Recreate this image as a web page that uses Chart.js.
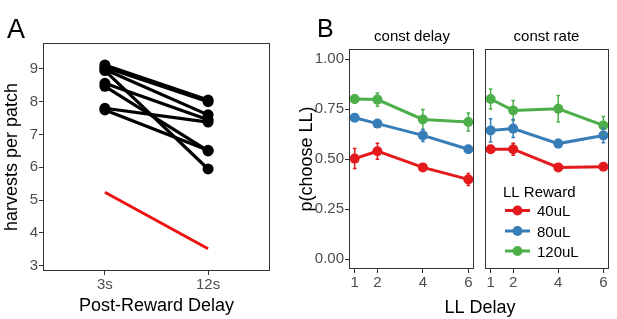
<!DOCTYPE html>
<html>
<head>
<meta charset="utf-8">
<script src="https://cdn.jsdelivr.net/npm/chart.js@4"></script>
<style>
  body { margin: 0; background: #fff; }
  #wrap { position: relative; width: 617px; height: 319px; overflow: hidden; background: #fff; }
  #wrap canvas { position: absolute; top: 0; }
</style>
</head>
<body>
<div id="wrap">
  <canvas id="chartA" width="300" height="319" style="left:0"></canvas>
  <canvas id="chartB1" width="230" height="319" style="left:290px"></canvas>
  <canvas id="chartB2" width="137" height="319" style="left:480px"></canvas>
</div>
<script>
// panel A: harvests per patch, one line per subject
const delayLabels = ['3s', '12s'];
const harvest3s  = [9.12, 9.05, 8.98, 8.95, 8.56, 8.47, 7.80, 7.75];
const harvest12s = [8.05, 8.00, 7.60, 5.95, 7.45, 6.50, 7.38, 6.52];
const optimalLine = [5.24, 3.52];

// panel B: p(choose LL) by LL delay
const llDelay = [1, 2, 4, 6];
const rewardLabels = ['40uL', '80uL', '120uL'];
const rewardColors = ['#e41a1c', '#377eb8', '#4daf4a'];
const constDelay40  = [0.502, 0.539, 0.458, 0.398];
const constDelay80  = [0.706, 0.677, 0.618, 0.549];
const constDelay120 = [0.800, 0.797, 0.698, 0.685];
const constDelayErr40  = [0.050, 0.040, 0.015, 0.030];
const constDelayErr80  = [0.015, 0.012, 0.030, 0.012];
const constDelayErr120 = [0.020, 0.033, 0.050, 0.045];
const constRate40  = [0.549, 0.549, 0.458, 0.461];
const constRate80  = [0.643, 0.652, 0.577, 0.618];
const constRate120 = [0.800, 0.743, 0.751, 0.668];
const constRateErr40  = [0.010, 0.030, 0.010, 0.010];
const constRateErr80  = [0.058, 0.045, 0.020, 0.037];
const constRateErr120 = [0.050, 0.050, 0.066, 0.045];
const probTicks = [0, 0.25, 0.5, 0.75, 1];

Chart.defaults.font.family = '"Liberation Sans", Arial, sans-serif';
Chart.defaults.animation = false;
Chart.defaults.responsive = false;
Chart.defaults.devicePixelRatio = 1;
Chart.defaults.plugins.legend.display = false;
Chart.defaults.plugins.tooltip.enabled = false;

const TICK_COLOR = '#4d4d4d';
const FRAME_COLOR = '#333333';
const FONT = '"Liberation Sans", Arial, sans-serif';

const framePlugin = {
    id: 'frame',
    afterDatasetsDraw(chart) {
        const a = chart.chartArea, ctx = chart.ctx;
        ctx.save();
        ctx.strokeStyle = FRAME_COLOR;
        ctx.lineWidth = 1;
        ctx.strokeRect(Math.round(a.left) + 0.5, Math.round(a.top) + 0.5,
            Math.round(a.right - a.left) - 1, Math.round(a.bottom - a.top) - 1);
        ctx.restore();
    }
};

function textPlugin(items) {
    return {
        id: 'texts',
        afterDraw(chart) {
            const ctx = chart.ctx;
            ctx.save();
            items.forEach(t => {
                ctx.font = t.font;
                ctx.fillStyle = t.color || '#000';
                ctx.textAlign = t.align || 'left';
                ctx.textBaseline = 'alphabetic';
                ctx.fillText(t.text, t.x, t.y);
            });
            ctx.restore();
        }
    };
}

function errSegments(xs, ys, es, cap) {
    const pts = [];
    xs.forEach((x, i) => {
        const lo = ys[i] - es[i], hi = ys[i] + es[i];
        pts.push({x: x, y: lo}, {x: x, y: hi}, {x: x, y: null});
        pts.push({x: x - cap, y: hi}, {x: x + cap, y: hi}, {x: x, y: null});
        pts.push({x: x - cap, y: lo}, {x: x + cap, y: lo}, {x: x, y: null});
    });
    return pts;
}

function tickOpts(size) {
    return { color: TICK_COLOR, font: { size: size }, padding: 1 };
}
const gridOpts = { drawOnChartArea: false, drawTicks: true, tickLength: 4, color: FRAME_COLOR };

// ---------- panel A ----------
const subjectSets = harvest3s.map((v, i) => ({
    data: [{x: 1, y: v}, {x: 2, y: harvest12s[i]}],
    borderColor: '#000', backgroundColor: '#000',
    borderWidth: 3.2, pointRadius: 5.5, pointBorderWidth: 0
}));
subjectSets.push({
    data: [{x: 1, y: optimalLine[0]}, {x: 2, y: optimalLine[1]}],
    borderColor: '#ee1111', borderWidth: 3, pointRadius: 0
});

new Chart(document.getElementById('chartA'), {
    type: 'line',
    data: { datasets: subjectSets },
    options: {
        layout: { padding: { top: 43, right: 30, left: 0, bottom: 0 } },
        scales: {
            x: {
                type: 'linear', min: 0.4, max: 2.6, bounds: 'data',
                afterBuildTicks: s => { s.ticks = [1, 2].map(v => ({value: v})); },
                afterFit: s => { s.height = 48; },
                ticks: Object.assign(tickOpts(15), { callback: v => delayLabels[v - 1] }),
                grid: gridOpts, border: { display: false },
                title: { display: true, text: 'Post-Reward Delay', color: '#000', font: { size: 18 }, padding: { top: 0, bottom: 2 } }
            },
            y: {
                type: 'linear', min: 2.84, max: 9.79, bounds: 'data',
                afterBuildTicks: s => { s.ticks = [3, 4, 5, 6, 7, 8, 9].map(v => ({value: v})); },
                afterFit: s => { s.width = 43; },
                ticks: tickOpts(15),
                grid: gridOpts, border: { display: false },
                title: { display: true, text: 'harvests per patch', color: '#000', font: { size: 18 }, padding: { top: 1, bottom: 0 } }
            }
        }
    },
    plugins: [framePlugin, textPlugin([{ text: 'A', x: 7, y: 38, font: '27px ' + FONT }])]
});

// ---------- panel B ----------
function facetSets(means, errs) {
    const sets = [];
    means.forEach((m, k) => {
        sets.push({
            data: errSegments(llDelay, m, errs[k], 0.08),
            borderColor: rewardColors[k], borderWidth: 1.5, pointRadius: 0, spanGaps: false
        });
    });
    means.forEach((m, k) => {
        sets.push({
            data: llDelay.map((x, i) => ({x: x, y: m[i]})),
            borderColor: rewardColors[k], backgroundColor: rewardColors[k],
            borderWidth: 3, pointRadius: 5, pointBorderWidth: 0
        });
    });
    return sets;
}

function facetScales(showY, yWidth) {
    return {
        x: {
            type: 'linear', min: 0.75, max: 6.25, bounds: 'data',
            afterBuildTicks: s => { s.ticks = llDelay.map(v => ({value: v})); },
            afterFit: s => { s.height = 50; },
            ticks: tickOpts(15),
            grid: gridOpts, border: { display: false }
        },
        y: {
            type: 'linear', min: -0.05, max: 1.05, bounds: 'data', display: showY,
            afterBuildTicks: s => { s.ticks = probTicks.map(v => ({value: v})); },
            afterFit: s => { s.width = yWidth; },
            ticks: Object.assign(tickOpts(15), { callback: v => v.toFixed(2) }),
            grid: gridOpts, border: { display: false },
            title: { display: true, text: 'p(choose LL)', color: '#000', font: { size: 18 }, padding: { top: 6, bottom: 0 } }
        }
    };
}

new Chart(document.getElementById('chartB1'), {
    type: 'line',
    data: { datasets: facetSets([constDelay40, constDelay80, constDelay120], [constDelayErr40, constDelayErr80, constDelayErr120]) },
    options: {
        layout: { padding: { top: 49, right: 46, left: 0, bottom: 0 } },
        scales: facetScales(true, 59)
    },
    plugins: [framePlugin, textPlugin([
        { text: 'B', x: 27, y: 37, font: '25px ' + FONT },
        { text: 'const delay', x: 122, y: 41, align: 'center', font: '15px ' + FONT },
        { text: 'LL Delay', x: 190, y: 313, align: 'center', font: '18px ' + FONT }
    ])]
});

const legendPlugin = {
    id: 'rewardLegend',
    afterDraw(chart) {
        const ctx = chart.ctx;
        ctx.save();
        ctx.font = '15px ' + FONT;
        ctx.fillStyle = '#000';
        ctx.textBaseline = 'alphabetic';
        ctx.fillText('LL Reward', 23, 197);
        const rows = [210.5, 231, 251];
        rewardLabels.forEach((lab, k) => {
            const y = rows[k];
            ctx.strokeStyle = rewardColors[k];
            ctx.lineWidth = 3;
            ctx.beginPath(); ctx.moveTo(25, y); ctx.lineTo(50, y); ctx.stroke();
            ctx.fillStyle = rewardColors[k];
            ctx.beginPath(); ctx.arc(37.5, y, 5, 0, Math.PI * 2); ctx.fill();
            ctx.fillStyle = '#000';
            ctx.fillText(lab, 57, y + 5.5);
        });
        ctx.restore();
    }
};

new Chart(document.getElementById('chartB2'), {
    type: 'line',
    data: { datasets: facetSets([constRate40, constRate80, constRate120], [constRateErr40, constRateErr80, constRateErr120]) },
    options: {
        layout: { padding: { top: 49, right: 8, left: 4, bottom: 0 } },
        scales: facetScales(false, 0)
    },
    plugins: [framePlugin, legendPlugin, textPlugin([
        { text: 'const rate', x: 66.5, y: 41, align: 'center', font: '15px ' + FONT }
    ])]
});
</script>
</body>
</html>
